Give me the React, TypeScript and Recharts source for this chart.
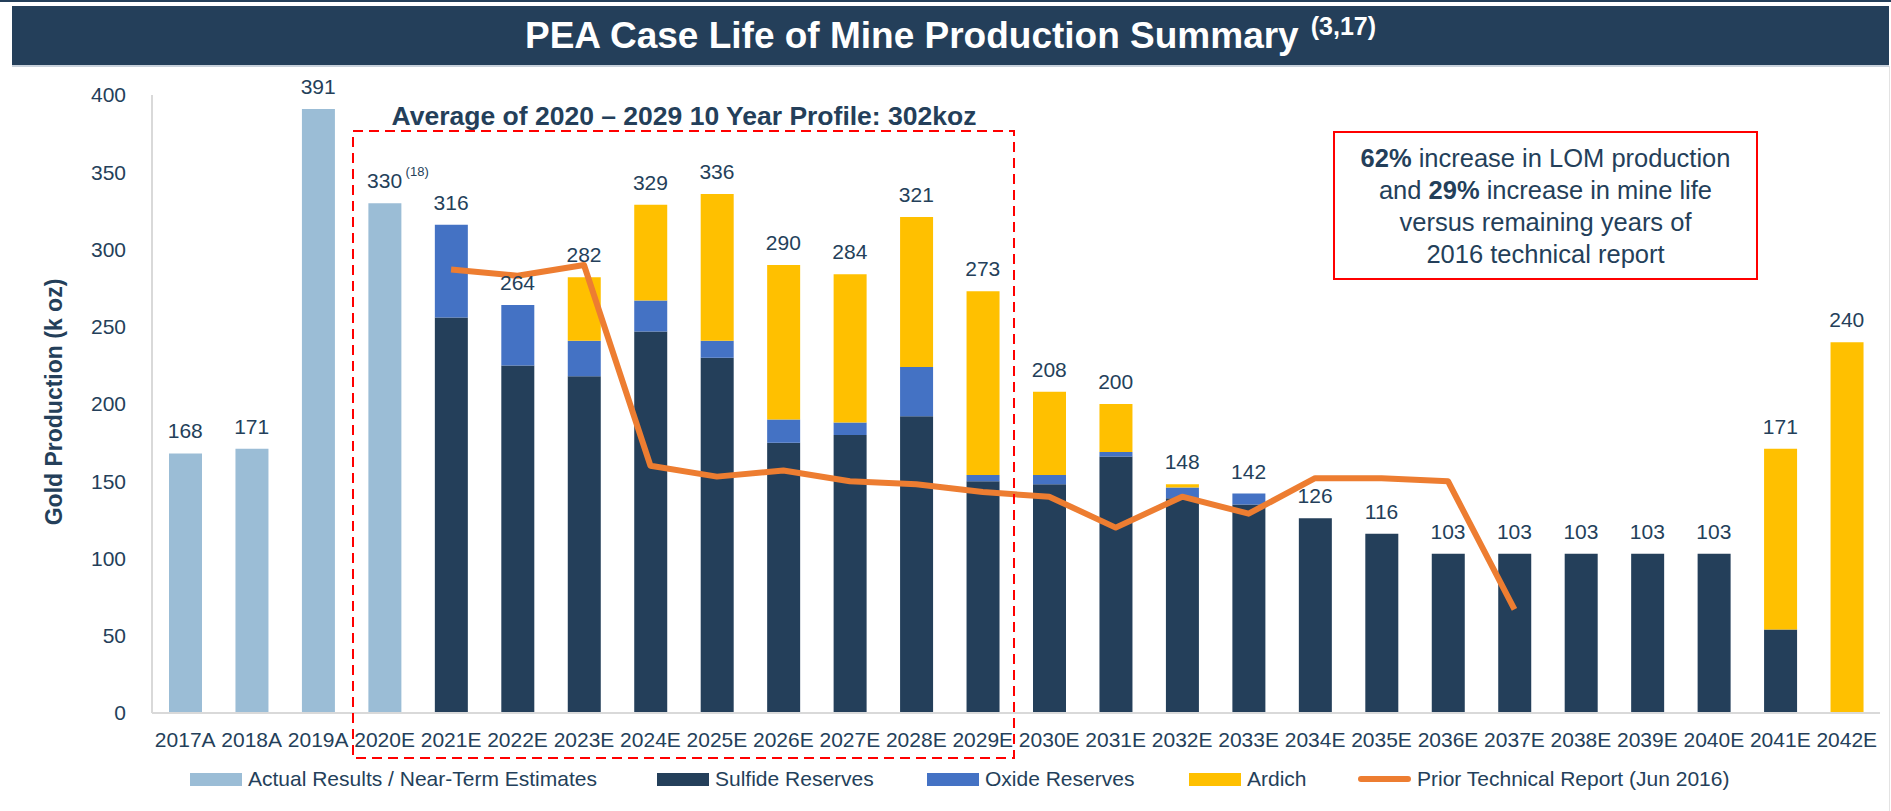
import React from 'react';
import { ComposedChart, Bar, Line, XAxis, YAxis, LabelList } from 'recharts';

const categories = ['2017A', '2018A', '2019A', '2020E', '2021E', '2022E', '2023E', '2024E', '2025E', '2026E', '2027E', '2028E', '2029E', '2030E', '2031E', '2032E', '2033E', '2034E', '2035E', '2036E', '2037E', '2038E', '2039E', '2040E', '2041E', '2042E'];
const actualValues = [168, 171, 391, 330, 0, 0, 0, 0, 0, 0, 0, 0, 0, 0, 0, 0, 0, 0, 0, 0, 0, 0, 0, 0, 0, 0];
const sulfideValues = [0, 0, 0, 0, 256, 225, 218, 247, 230, 175, 180, 192, 150, 148, 166, 139, 135, 126, 116, 103, 103, 103, 103, 103, 54, 0];
const oxideValues = [0, 0, 0, 0, 60, 39, 23, 20, 11, 15, 8, 32, 4, 6, 3, 7, 7, 0, 0, 0, 0, 0, 0, 0, 0, 0];
const ardichValues = [0, 0, 0, 0, 0, 0, 41, 62, 95, 100, 96, 97, 119, 54, 31, 2, 0, 0, 0, 0, 0, 0, 0, 0, 117, 240];
const totalLabels = [168, 171, 391, 330, 316, 264, 282, 329, 336, 290, 284, 321, 273, 208, 200, 148, 142, 126, 116, 103, 103, 103, 103, 103, 171, 240];
const priorReport: (number | null)[] = [null, null, null, null, 287, 283, 290, 160, 153, 157, 150, 148, 143, 140, 120, 140, 129, 152, 152, 150, 67, null, null, null, null, null];
const yTicks = [0, 50, 100, 150, 200, 250, 300, 350, 400];

const NAVY = '#243F5A';
const LIGHT_BLUE = '#9BBDD6';
const OXIDE = '#4472C4';
const ARDICH = '#FFC000';
const ORANGE = '#ED7D31';
const FONT = '"Liberation Sans", Arial, sans-serif';

const data = categories.map((cat, i) => ({
  cat,
  actual: actualValues[i],
  sulfide: sulfideValues[i],
  oxide: oxideValues[i],
  ardich: ardichValues[i],
  total: totalLabels[i],
  prior: priorReport[i],
}));

const TotalLabel = (props: any) => {
  const { x, y, value, index } = props;
  if (value == null) return null;
  return (
    <g>
      <text x={x} y={y - 15} textAnchor="middle" fontSize={21} fill={NAVY} fontFamily={FONT}>
        {value}
      </text>
      {index === 3 && (
        <text x={x + 21} y={y - 27} textAnchor="start" fontSize={13} fill={NAVY} fontFamily={FONT}>
          (18)
        </text>
      )}
    </g>
  );
};

const legendItems = [
  { label: 'Actual Results / Near-Term Estimates', color: LIGHT_BLUE, type: 'rect', left: 190 },
  { label: 'Sulfide Reserves', color: NAVY, type: 'rect', left: 657 },
  { label: 'Oxide Reserves', color: OXIDE, type: 'rect', left: 927 },
  { label: 'Ardich', color: ARDICH, type: 'rect', left: 1189 },
  { label: 'Prior Technical Report (Jun 2016)', color: ORANGE, type: 'line', left: 1358 },
];

export default function App() {
  return (
    <div style={{ position: 'absolute', left: 0, top: 0, width: 1891, height: 811, background: '#fff', fontFamily: FONT, overflow: 'hidden' }}>
      <div style={{ position: 'absolute', left: 0, top: 0, width: 1891, height: 2, background: NAVY }} />
      <div
        style={{
          position: 'absolute',
          left: 12,
          top: 6,
          width: 1877,
          height: 59,
          background: NAVY,
          borderBottom: '2px solid #C9D2DC',
          color: '#fff',
          display: 'flex',
          alignItems: 'center',
          justifyContent: 'center',
          fontWeight: 700,
          fontSize: 37,
          whiteSpace: 'nowrap',
        }}
      >
        <span>
          PEA Case Life of Mine Production Summary
          <span style={{ fontSize: 25, verticalAlign: 'top', position: 'relative', top: -3, marginLeft: 12, fontWeight: 700 }}>(3,17)</span>
        </span>
      </div>
      <div style={{ position: 'absolute', left: 1889, top: 66, width: 1, height: 745, background: '#E3E3E3' }} />

      <div style={{ position: 'absolute', left: 0, top: 0 }}>
        <ComposedChart
          width={1891}
          height={811}
          data={data}
          margin={{ top: 95, right: 11, bottom: 68, left: 92 }}
        >
          <XAxis
            dataKey="cat"
            interval={0}
            tickLine={false}
            axisLine={{ stroke: '#D9D9D9', strokeWidth: 2 }}
            tick={{ fontSize: 21, fill: NAVY, fontFamily: FONT }}
            tickMargin={13}
            height={30}
          />
          <YAxis
            type="number"
            domain={[0, 400]}
            ticks={yTicks}
            tickLine={false}
            axisLine={{ stroke: '#D9D9D9', strokeWidth: 2 }}
            tick={{ fontSize: 21, fill: NAVY, fontFamily: FONT }}
            tickMargin={20}
            width={60}
          />
          <Bar dataKey="actual" stackId="a" barSize={33} fill={LIGHT_BLUE} isAnimationActive={false} />
          <Bar dataKey="sulfide" stackId="a" barSize={33} fill={NAVY} isAnimationActive={false} />
          <Bar dataKey="oxide" stackId="a" barSize={33} fill={OXIDE} isAnimationActive={false} />
          <Bar dataKey="ardich" stackId="a" barSize={33} fill={ARDICH} isAnimationActive={false} />
          <Line dataKey="total" stroke="none" dot={false} activeDot={false} isAnimationActive={false} legendType="none">
            <LabelList dataKey="total" content={TotalLabel} />
          </Line>
          <Line
            dataKey="prior"
            type="linear"
            stroke={ORANGE}
            strokeWidth={6}
            dot={false}
            activeDot={false}
            connectNulls={false}
            isAnimationActive={false}
            strokeLinejoin="round"
          />
        </ComposedChart>
      </div>

      <svg style={{ position: 'absolute', left: 0, top: 0, pointerEvents: 'none' }} width={1891} height={811}>
        <rect x={353} y={131} width={661} height={627} fill="none" stroke="#FF0000" strokeWidth={2} strokeDasharray="10 6" />
        <text x={684} y={125} textAnchor="middle" fontSize={26.5} fontWeight={700} fill={NAVY} fontFamily={FONT}>
          Average of 2020 – 2029 10 Year Profile: 302koz
        </text>
        <text transform="translate(62,402) rotate(-90)" textAnchor="middle" fontSize={23} fontWeight={700} fill={NAVY} fontFamily={FONT}>
          Gold Production (k oz)
        </text>
      </svg>

      <div
        style={{
          position: 'absolute',
          left: 1333,
          top: 131,
          width: 421,
          height: 145,
          border: '2px solid #FF0000',
          display: 'flex',
          alignItems: 'center',
          justifyContent: 'center',
          textAlign: 'center',
          color: NAVY,
          fontSize: 25.5,
          lineHeight: '32px',
        }}
      >
        <div>
          <b>62%</b> increase in LOM production
          <br />
          and <b>29%</b> increase in mine life
          <br />
          versus remaining years of
          <br />
          2016 technical report
        </div>
      </div>

      {legendItems.map((item) => (
        <div
          key={item.label}
          style={{ position: 'absolute', left: item.left, top: 765, height: 28, display: 'flex', alignItems: 'center', whiteSpace: 'nowrap' }}
        >
          {item.type === 'rect' ? (
            <div style={{ width: 52, height: 13, background: item.color }} />
          ) : (
            <div style={{ width: 53, height: 6, borderRadius: 3, background: item.color }} />
          )}
          <span style={{ marginLeft: 6, fontSize: 21, color: NAVY }}>{item.label}</span>
        </div>
      ))}
    </div>
  );
}
